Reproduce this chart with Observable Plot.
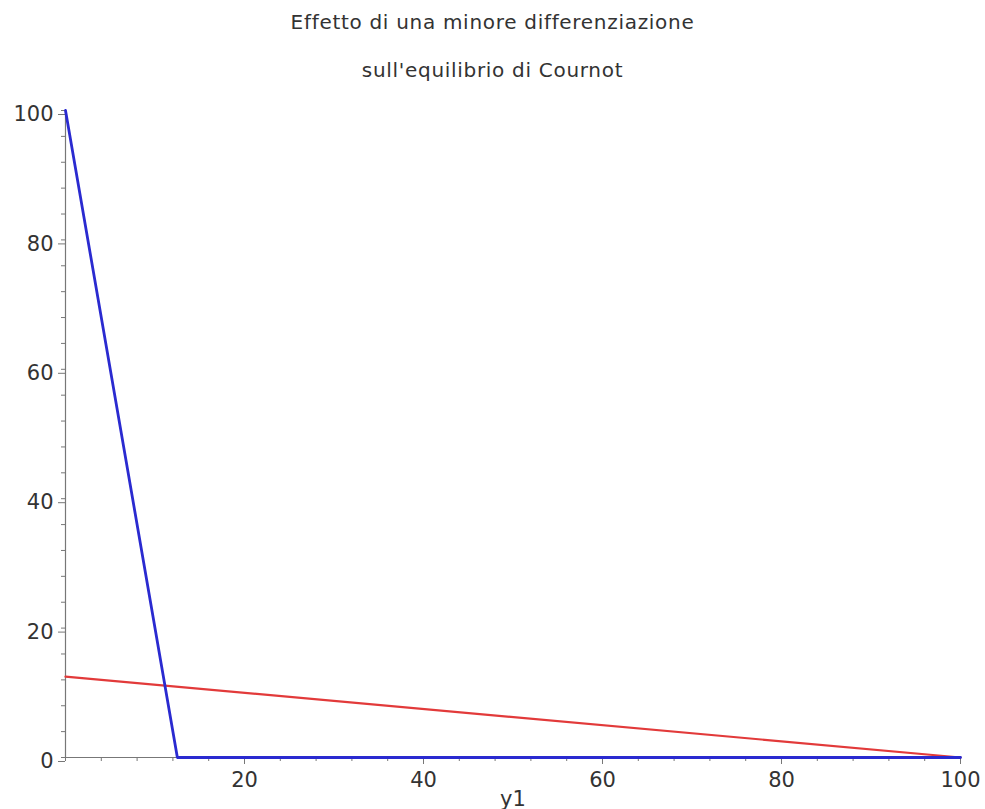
<!DOCTYPE html>
<html>
<head>
<meta charset="utf-8">
<script src="https://cdn.jsdelivr.net/npm/d3@7"></script>
<script src="https://cdn.jsdelivr.net/npm/@observablehq/plot@0.6"></script>
<style>
  body { margin: 0; background: #fff; font-family: "DejaVu Sans", sans-serif; }
  #header { position: relative; width: 985px; height: 95px; }
  .t { position: absolute; left: 0; width: 985px; text-align: center; font-size: 20px; letter-spacing: 0.7px; color: #333; }
</style>
</head>
<body>
<div id="header">
  <div class="t" id="t1" style="top: 10px;">Effetto di una minore differenziazione</div>
  <div class="t" id="t2" style="top: 58px;">sull'equilibrio di Cournot</div>
</div>
<div id="chart"></div>
<script>
// Data
const blueX = [0, 12.5, 100];
const blueY = [100, 0, 0];
const redX = [0, 100];
const redY = [12.5, 0];
const majorTicks = [0, 20, 40, 60, 80, 100];
const xTickLabels = [20, 40, 60, 80, 100];
const minorTicks = d3.range(0, 101, 4);
const xLabel = "y1";

const blue = blueX.map((x, i) => ({x, y: blueY[i]}));
const red = redX.map((x, i) => ({x, y: redY[i]}));

const chart = Plot.plot({
  width: 985,
  height: 714,
  marginTop: 15,
  marginBottom: 52,
  marginLeft: 65,
  marginRight: 25,
  style: { fontFamily: "DejaVu Sans, sans-serif", fontSize: "21px", color: "#333", background: "#fff" },
  x: { domain: [0, 100] },
  y: { domain: [0, 100] },
  marks: [
    Plot.axisY(minorTicks, { tickSize: 4, tickFormat: () => "", stroke: "#777", label: null }),
    Plot.axisX(minorTicks, { tickSize: 4, tickFormat: () => "", stroke: "#777", label: null }),
    Plot.axisY(majorTicks, { tickSize: 7, tickPadding: 5, dy: 4, stroke: "#777", fill: "#333", fontSize: 21, label: null }),
    Plot.axisX(xTickLabels, { tickSize: 7, tickPadding: 8, stroke: "#777", fill: "#333", fontSize: 21, label: null }),
    Plot.ruleX([0], { stroke: "#777", strokeWidth: 1.2 }),
    Plot.ruleY([0], { stroke: "#777", strokeWidth: 1.2 }),
    Plot.line(red, { x: "x", y: "y", stroke: "#e23a3a", strokeWidth: 2.2 }),
    Plot.line(blue, { x: "x", y: "y", stroke: "#2a2ad0", strokeWidth: 2.8 }),
    Plot.text([xLabel], { frameAnchor: "bottom", dy: 48, fontSize: 21, fill: "#333" })
  ]
});
document.getElementById("chart").appendChild(chart);
</script>
</body>
</html>
